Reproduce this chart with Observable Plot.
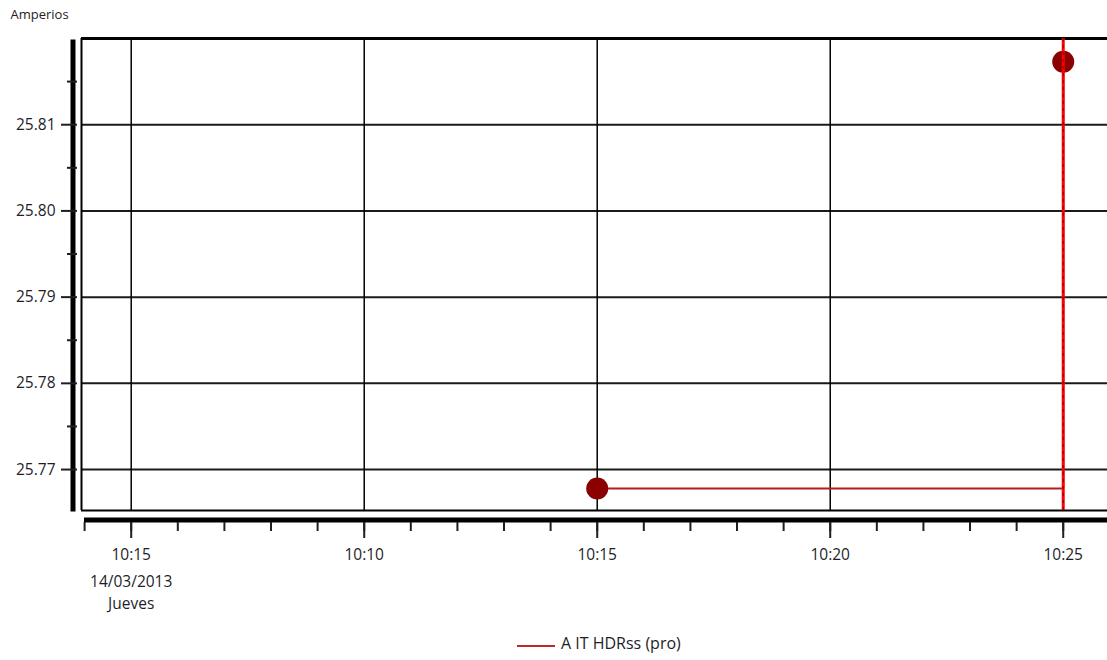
<!DOCTYPE html>
<html>
<head>
<meta charset="utf-8">
<script src="https://cdn.jsdelivr.net/npm/d3@7"></script>
<script src="https://cdn.jsdelivr.net/npm/@observablehq/plot@0.6"></script>
<style>
  body { margin: 0; background: #fff; font-family: "Open Sans", sans-serif; }
  #chart svg { display: block; }
  #legend { position: relative; width: 1107px; height: 35px; color: #1e1e28; font-size: 16px; }
  #legend .sw { position: absolute; left: 517px; top: 20px; width: 38px; height: 2px; background: #c0282d; }
  #legend .lb { position: absolute; left: 561px; top: 8px; line-height: 1.36; white-space: nowrap; }
</style>
</head>
<body>
<div id="chart"></div>
<div id="legend"></div>
<script>
// ---- data ----
const seriesName = "A IT HDRss (pro)";
const yLabel = "Amperios";
const times = ["2013-03-14T10:15:00Z", "2013-03-14T10:25:00Z"];
const values = [25.7678, 25.8173];
const markerTime = "2013-03-14T10:25:00Z";
const xTicks = ["2013-03-14T10:05:00Z", "2013-03-14T10:10:00Z", "2013-03-14T10:15:00Z", "2013-03-14T10:20:00Z", "2013-03-14T10:25:00Z"];
const xTickLabels = ["10:15", "10:10", "10:15", "10:20", "10:25"];
const dateLabel = "14/03/2013";
const dayLabel = "Jueves";
const yTicks = [25.77, 25.78, 25.79, 25.80, 25.81];
const yMinorTicks = [25.775, 25.785, 25.795, 25.805, 25.815];
const xDomain = ["2013-03-14T10:03:56Z", "2013-03-14T10:25:57Z"];
const yDomain = [25.76525, 25.82];

// ---- build ----
const parse = s => new Date(s);
const data = times.map((t, i) => ({time: parse(t), value: values[i]}));
const xTickDates = xTicks.map(parse);
const xDom = xDomain.map(parse);
const xMinorDates = d3.utcMinute.range(parse("2013-03-14T10:04:00Z"), xDom[1]);
const labelFor = d => xTickLabels[xTickDates.findIndex(t => +t === +d)] ?? "";

const chart = Plot.plot({
  width: 1107,
  height: 625,
  marginLeft: 81,
  marginRight: 0,
  marginTop: 38,
  marginBottom: 115,
  style: {fontFamily: "'Open Sans', sans-serif", fontSize: "15.5px", color: "#1e1e28", background: "#fff", overflow: "visible"},
  x: {type: "utc", domain: xDom},
  y: {domain: yDomain},
  marks: [
    // grid
    Plot.gridY(yTicks, {stroke: "#1a1a1a", strokeOpacity: 1, strokeWidth: 2}),
    Plot.gridX(xTickDates, {stroke: "#000", strokeOpacity: 1, strokeWidth: 1.5}),
    // frame
    Plot.ruleY([yDomain[1]], {stroke: "#000", strokeWidth: 3}),
    Plot.ruleY([yDomain[0]], {stroke: "#000", strokeWidth: 2}),
    Plot.ruleX([xDom[0]], {stroke: "#000", strokeWidth: 2}),
    // thick axis bars
    Plot.ruleX([xDom[0]], {y1: yDomain[0], y2: yDomain[1], dx: -8.5, dy: 1.5, stroke: "#000", strokeWidth: 5}),
    Plot.ruleY([yDomain[0]], {x1: xDom[0], x2: xDom[1], dx: 3, dy: 9.5, stroke: "#000", strokeWidth: 5}),
    // y axis
    Plot.axisY(yMinorTicks, {tickSize: 10, dx: -4, tickFormat: () => "", label: null, strokeWidth: 2}),
    Plot.axisY(yTicks, {tickSize: 16, dx: -4, tickPadding: 6, tickFormat: d => d.toFixed(2), label: null, strokeWidth: 2}),
    Plot.text([yLabel], {frameAnchor: "top-left", dx: -71, dy: -29, lineAnchor: "top", textAnchor: "start", fontSize: 13, fill: "#1e1e28"}),
    // x axis
    Plot.axisX(xMinorDates, {tickSize: 9, dy: 12, tickFormat: () => "", label: null, strokeWidth: 2}),
    Plot.axisX(xTickDates, {tickSize: 16, dy: 12, tickPadding: 10, tickFormat: labelFor, label: null, strokeWidth: 2}),
    Plot.axisX([xTickDates[0]], {tickSize: 0, dy: 12, tickPadding: 49, tickFormat: () => dateLabel + "\n" + dayLabel, lineHeight: 1.4, label: null}),
    // series
    Plot.line(data, {x: "time", y: "value", curve: "step-after", stroke: "#b71c1c", strokeWidth: 2}),
    Plot.dot(data, {x: "time", y: "value", r: 11, fill: "#8b0000", stroke: "none"}),
    Plot.ruleX([parse(markerTime)], {stroke: "#ff0000", strokeWidth: 3}),
    Plot.ruleX([parse(markerTime)], {stroke: "#400", strokeWidth: 1, strokeDasharray: "3,4", strokeOpacity: 0.7})
  ]
});
document.getElementById("chart").append(chart);

const legend = document.getElementById("legend");
legend.innerHTML = `<span class="sw"></span><span class="lb"></span>`;
legend.querySelector(".lb").textContent = seriesName;
</script>
</body>
</html>
